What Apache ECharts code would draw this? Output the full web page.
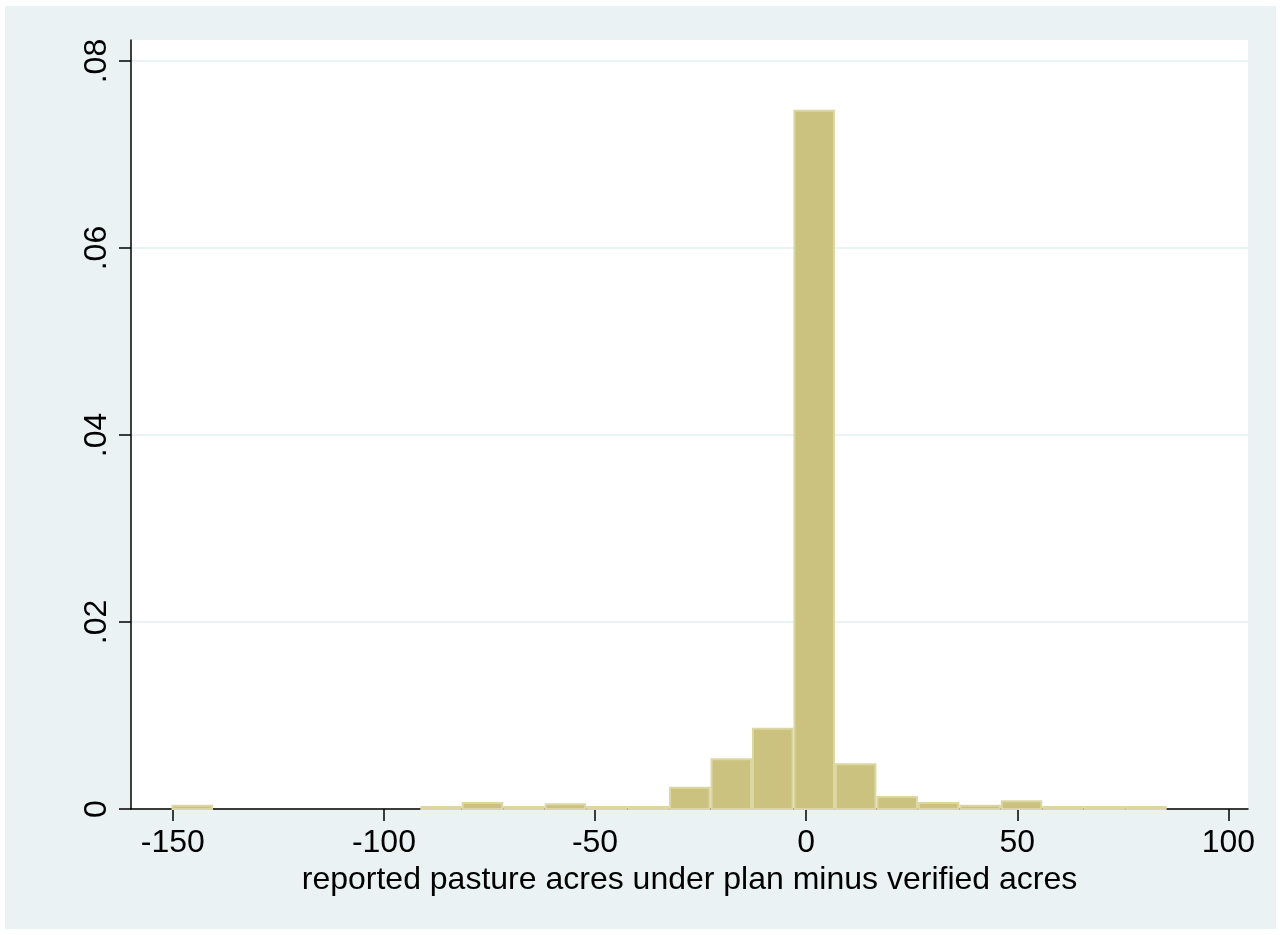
<!DOCTYPE html>
<html>
<head>
<meta charset="utf-8">
<script src="https://cdn.jsdelivr.net/npm/echarts@6/dist/echarts.min.js"></script>
<style>
  html, body { margin: 0; padding: 0; background: #fff; }
  #chart { width: 1281px; height: 935px; }
</style>
</head>
<body>
<div id="chart"></div>
<script>
'use strict'

// histogram bins: first edge and width (acres)
const binStart = -150.3
const binWidth = 9.82
// density of each bin
const density = [
    0.00045, 0, 0, 0, 0, 0,
    0.00032, 0.00075, 0.00032, 0.00061, 0.00032, 0.00032,
    0.00239, 0.00542, 0.0087, 0.0748, 0.00489, 0.00139,
    0.00075, 0.00046, 0.00093, 0.00032, 0.00032, 0.00032
]
const xTicks = [-150, -100, -50, 0, 50, 100]
const yTicks = [0, 0.02, 0.04, 0.06, 0.08]
const xTitle = 'reported pasture acres under plan minus verified acres'

const font = '"Liberation Sans", Arial, sans-serif'
const bgColor = '#EAF2F3'

const bins = density.map((v, k) => [binStart + k * binWidth, binStart + (k + 1) * binWidth, v])

let option = {
    animation: false,
    backgroundColor: '#fff',
    graphic: [{
        type: 'rect',
        z: -10,
        shape: { x: 5, y: 6, width: 1271, height: 923 },
        style: { fill: bgColor }
    }],
    grid: {
        left: 131,
        right: 33,
        top: 40,
        bottom: 126,
        show: true,
        backgroundColor: '#fff',
        borderWidth: 0
    },
    xAxis: {
        type: 'value',
        min: -159.9,
        max: 104.65,
        name: xTitle,
        nameLocation: 'middle',
        nameGap: 52,
        nameTextStyle: { color: '#000', fontSize: 32, fontFamily: font },
        axisLine: { show: true, onZero: false, lineStyle: { color: '#000', width: 1.5 } },
        axisTick: {
            show: true,
            length: 12,
            customValues: xTicks,
            lineStyle: { color: '#000', width: 1.5 }
        },
        axisLabel: {
            customValues: xTicks,
            color: '#000',
            fontSize: 32,
            fontFamily: font,
            margin: 18
        },
        splitLine: { show: false }
    },
    yAxis: {
        type: 'value',
        min: 0,
        max: 0.08225,
        interval: 0.02,
        axisLine: { show: true, onZero: false, lineStyle: { color: '#000', width: 1.5 } },
        axisTick: {
            show: true,
            length: 12,
            customValues: yTicks,
            lineStyle: { color: '#000', width: 1.5 }
        },
        axisLabel: {
            customValues: yTicks,
            rotate: 90,
            color: '#000',
            fontSize: 32,
            fontFamily: font,
            margin: 18,
            formatter: function (v) {
                return v === 0 ? '0' : String(v.toFixed(2)).replace(/^0/, '')
            }
        },
        splitLine: { show: true, lineStyle: { color: bgColor, width: 2 } }
    },
    series: [{
        type: 'custom',
        data: bins,
        renderItem: function (params, api) {
            if (api.value(2) <= 0) return null
            const p0 = api.coord([api.value(0), api.value(2)])
            const p1 = api.coord([api.value(1), 0])
            return {
                type: 'rect',
                shape: { x: p0[0] + 1, y: p0[1] + 1, width: p1[0] - p0[0] - 2, height: p1[1] - p0[1] - 1 },
                style: { fill: '#CAC27E', stroke: '#DCD6A3', lineWidth: 2 }
            }
        }
    }]
}

let myChart = echarts.init(document.getElementById('chart'))
myChart.setOption(option)
</script>
</body>
</html>
